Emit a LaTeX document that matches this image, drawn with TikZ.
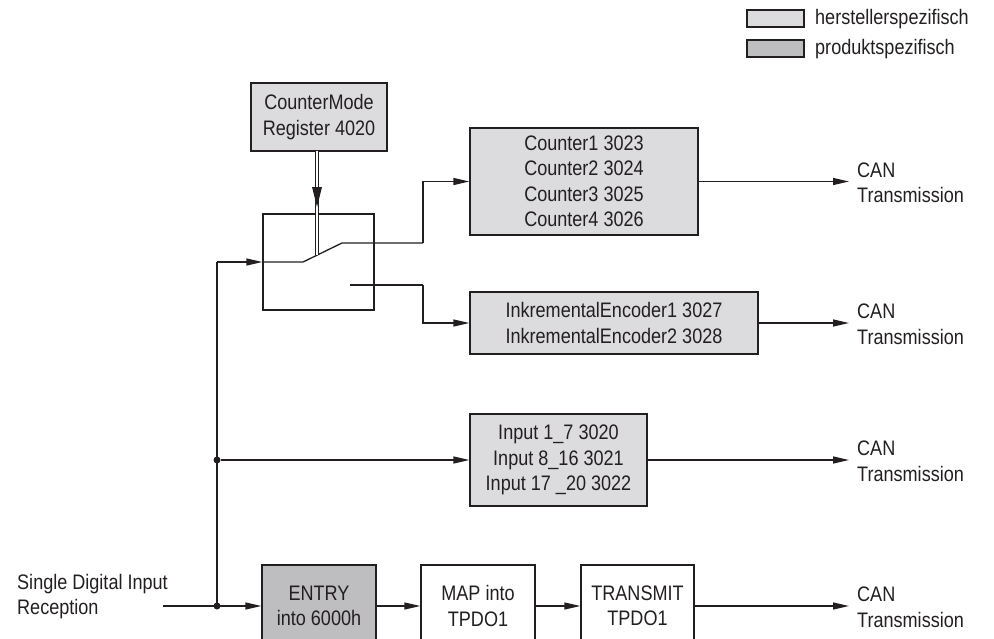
\documentclass[tikz,border=0pt]{standalone}
\usepackage{fontspec}
\setmainfont{Liberation Sans}[FakeStretch=0.86]
\usetikzlibrary{arrows.meta}
\definecolor{ink}{HTML}{231F20}
\definecolor{hersteller}{HTML}{DCDCDE}
\definecolor{produkt}{HTML}{BEBEC0}
\tikzset{
  every node/.style={font=\fontsize{21}{25.5}\selectfont, text=ink},
  blk/.style={draw=ink, line width=1.3pt, inner sep=0pt, align=center},
  hbox/.style={blk, fill=hersteller},
  pbox/.style={blk, fill=produkt},
  wbox/.style={blk, fill=white},
  conn/.style={draw=ink, line width=1.3pt},
  arr/.style={conn, -{Triangle[length=16pt,width=7pt]}},
  lbl/.style={anchor=west, align=left, inner sep=0pt},
  dot/.style={circle, fill=ink, inner sep=0pt, minimum size=7pt}
}
\begin{document}
\begin{tikzpicture}[x=1pt,y=-1pt]
\useasboundingbox (0,0) rectangle (994,638);
\clip (0,0) rectangle (994,638);

% legend
\node[hbox, minimum width=57pt, minimum height=17pt] (leg1) at (775.5,18.5) {};
\node[pbox, minimum width=57pt, minimum height=17pt] (leg2) at (775.5,48.5) {};
\node[lbl] (legt1) at (815,19) {herstellerspezifisch};
\node[lbl] (legt2) at (815,49) {produktspezifisch};

% boxes
\node[hbox, minimum width=136pt, minimum height=68pt] (cm) at (319,117) {CounterMode\\Register 4020};
\node[wbox, minimum width=111pt, minimum height=96pt] (sw) at (318.5,262) {};
\node[hbox, minimum width=228pt, minimum height=107pt] (ctr) at (584,181.5) {Counter1 3023\\Counter2 3024\\Counter3 3025\\Counter4 3026};
\node[hbox, minimum width=288pt, minimum height=62pt] (inc) at (614,323) {InkrementalEncoder1 3027\\InkrementalEncoder2 3028};
\node[hbox, minimum width=177pt, minimum height=92pt] (inp) at (558.5,460) {Input 1\_7 3020\\Input 8\_16 3021\\Input 17 \_20 3022};
\node[pbox, minimum width=114pt, minimum height=82pt] (entry) at (319,606) {ENTRY\\into 6000h};
\node[wbox, minimum width=114pt, minimum height=82pt] (map) at (478,606) {MAP into\\TPDO1};
\node[wbox, minimum width=113pt, minimum height=82pt] (tx) at (637.5,606) {TRANSMIT\\TPDO1};

% CAN labels
\node[lbl] (can1) at (857,183) {CAN\\Transmission};
\node[lbl] (can2) at (857,324.5) {CAN\\Transmission};
\node[lbl] (can3) at (857,461.5) {CAN\\Transmission};
\node[lbl] (can4) at (857,607.5) {CAN\\Transmission};

\node[lbl] (sdi) at (17,596.5) {Single Digital Input\\Reception};

% coordinates
\coordinate (tr) at (217,262);
\coordinate (sdis) at (163,606);
\coordinate (p1) at (303,262);
\coordinate (p2) at (342,243);
\coordinate (bx1) at (423,243);
\coordinate (q1) at (350,285);
\coordinate (bx2) at (423,285);
\coordinate (lev) at (317,255);
\coordinate (cmb) at (317,151);

% trunk
\draw[conn] (tr) -- (tr |- entry.west);
\node[dot] (d1) at (tr |- inp.west) {};
\node[dot] (d2) at (tr |- entry.west) {};
\draw[arr] (tr) -- (sw.west);
\draw[arr] (sdis) -- (entry.west);
\draw[arr] (d1) -- (inp.west);

% switch internals
\draw[conn] (sw.west) -- (p1) -- (p2) -- (bx1);
\draw[arr] (bx1) -- (bx1 |- ctr.west) -- (ctr.west);
\draw[conn] (q1) -- (bx2);
\draw[arr] (bx2) -- (bx2 |- inc.west) -- (inc.west);

% control double line
\draw[draw=ink, double=white, double distance=2.4pt, line width=0.8pt] (cmb) -- (lev);
\fill[ink] ([shift={(-5,36)}]cmb) -- ([shift={(5,36)}]cmb) -- ([shift={(0,56)}]cmb) -- cycle;

% bottom chain
\draw[arr] (entry.east) -- (map.west);
\draw[arr] (map.east) -- (tx.west);

% outputs
\draw[arr] (ctr.east) -- ([xshift=-8pt]can1.west |- ctr.east);
\draw[arr] (inc.east) -- ([xshift=-8pt]can2.west |- inc.east);
\draw[arr] (inp.east) -- ([xshift=-8pt]can3.west |- inp.east);
\draw[arr] (tx.east) -- ([xshift=-8pt]can4.west |- tx.east);
\end{tikzpicture}
\end{document}
